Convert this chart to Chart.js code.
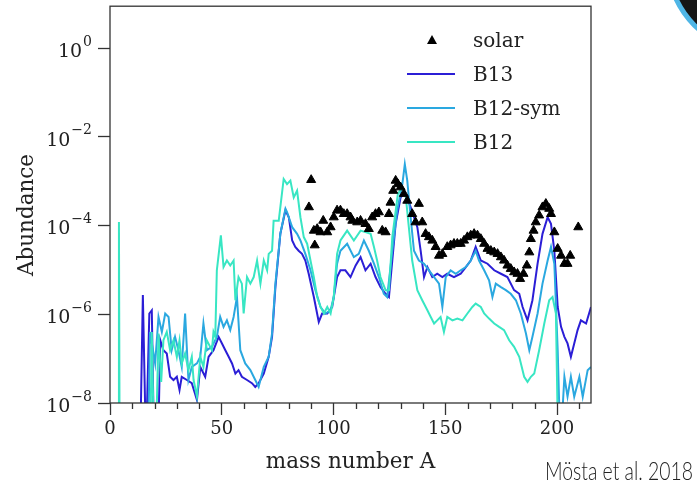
<!DOCTYPE html>
<html>
<head>
<meta charset="utf-8">
<script src="https://cdn.jsdelivr.net/npm/chart.js@4.4.1/dist/chart.umd.min.js"></script>
<style>
  html, body { margin: 0; padding: 0; background: #fff; }
  #wrap { position: relative; width: 697px; height: 485px; overflow: hidden; }
  #chart { position: absolute; left: 0; top: 0; }
  #corner { position: absolute; left: 665px; top: -135px; width: 180px; height: 180px;
            border-radius: 50%; background: #151515; border: 5px solid #4fb6e6; }
  #credit { position: absolute; left: 545px; top: 454px; font-family: Lato, 'Open Sans', sans-serif;
            font-weight: 300; font-size: 26px; color: #222; white-space: nowrap; transform-origin: 0 0; }
</style>
</head>
<body>
<div id="wrap">
  <canvas id="chart" width="697" height="485"></canvas>
  <div id="corner"></div>
  <div id="credit">Mösta et al. 2018</div>
</div>
<script>
// ---- data (mass number A, abundance) ----
const b13A = [
  13.5, 14.7, 16.1, 17.6, 18.7, 19.7, 21.5, 22.5, 23.9, 25.4,
  26.9, 28.4, 29.9, 31.1, 32.1, 34.4, 36.6, 38.9, 40.4, 42.6,
  44.1, 46.3, 48.6, 50.1, 51.6, 53.1, 54.6, 56.1, 57.5, 59.0,
  61.3, 63.5, 65.0, 66.5, 68.8, 71.0, 72.5, 74.0, 76.2, 78.5,
  80.0, 81.5, 82.9, 84.4, 85.9, 87.4, 88.9, 91.2, 93.4, 94.9,
  97.2, 99.4, 101.6, 103.1, 105.3, 107.6, 109.9, 112.1, 114.3, 116.6,
  118.8, 121.0, 123.3, 124.8, 126.3, 127.8, 130.0, 131.5, 133.0, 134.5,
  136.0, 137.5, 139.0, 140.5, 142.0, 144.2, 146.4, 148.7, 150.9, 153.9,
  156.9, 159.2, 161.4, 163.6, 165.9, 168.9, 171.9, 174.9, 177.8, 180.8,
  183.1, 184.6, 186.8, 189.0, 191.3, 193.5, 195.8, 197.3, 198.8, 200.3,
  201.8, 203.3, 204.7, 206.2, 207.7, 209.2, 210.7, 213.0, 215.2
];
const b13Y = [
  1e-9, 2.7e-6, 1e-9, 1.04e-6, 1.23e-6, 1e-9, 1e-9, 2.6e-7, 1.55e-7, 1.3e-7,
  3.9e-8, 3.3e-8, 3.9e-8, 1.96e-8, 3.9e-8, 3.3e-8, 2.8e-8, 1.17e-8, 6.5e-8, 3.9e-8,
  1.1e-7, 1.55e-7, 3.1e-7, 2.2e-7, 1.55e-7, 1.1e-7, 7.8e-8, 4.6e-8, 5.5e-8, 3.9e-8,
  3.3e-8, 2.8e-8, 2.3e-8, 2.8e-8, 4.6e-8, 1.1e-7, 3.1e-7, 4.1e-6, 6.5e-5, 2.2e-4,
  1.54e-4, 4.6e-5, 3.3e-5, 2.7e-5, 2.3e-5, 1.63e-5, 8.2e-6, 2.45e-6, 6.7e-7, 1.04e-6,
  1.04e-6, 1.46e-6, 6.9e-6, 9.8e-6, 9.8e-6, 6.9e-6, 1.26e-5, 1.94e-5, 9.8e-6, 1.38e-5,
  6.9e-6, 4.1e-6, 2.9e-6, 2.45e-6, 1.63e-5, 1.09e-4, 4.3e-4, 5.2e-4, 4.3e-4, 2.6e-4,
  1.54e-4, 9.2e-5, 2.7e-5, 6.9e-6, 1.16e-5, 6.9e-6, 8.2e-6, 6.9e-6, 8.2e-6, 6.9e-6,
  8.2e-6, 1.16e-5, 1.63e-5, 3.3e-5, 1.63e-5, 1.38e-5, 9.8e-6, 8.2e-6, 6.9e-6, 3.5e-6,
  2.9e-6, 1.46e-6, 7.3e-7, 2.07e-6, 1.38e-5, 6.5e-5, 1.54e-4, 1.09e-4, 2.7e-5, 1.46e-6,
  5.2e-7, 3.1e-7, 2.2e-7, 1.1e-7, 2.2e-7, 4.4e-7, 7.3e-7, 6.2e-7, 1.46e-6
];

const b12symA = [
  17.0, 17.9, 20.2, 21.7, 23.2, 24.7, 26.2, 27.6, 29.1, 30.6,
  32.1, 33.6, 35.1, 36.6, 38.9, 40.4, 41.8, 43.3, 45.6, 47.8,
  49.3, 50.8, 52.3, 53.8, 55.3, 56.8, 58.3, 60.5, 62.8, 65.0,
  66.5, 68.8, 71.0, 72.5, 74.0, 76.2, 78.5, 79.2, 81.5, 83.7,
  85.2, 87.4, 89.7, 91.9, 94.2, 96.4, 98.7, 100.1, 101.6, 103.1,
  106.1, 109.1, 111.3, 113.6, 115.8, 118.1, 120.3, 122.5, 124.0, 126.3,
  128.5, 130.8, 131.9, 133.0, 134.5, 136.0, 138.2, 140.5, 142.7, 145.0,
  147.2, 148.7, 150.2, 152.4, 154.7, 156.9, 159.2, 161.4, 163.6, 165.1,
  167.4, 169.6, 171.1, 172.6, 174.9, 177.1, 179.3, 181.6, 183.8, 186.1,
  187.6, 189.0, 191.3, 193.5, 195.8, 197.3, 198.8, 200.3, 201.5, 203.3,
  204.7, 206.2, 207.7, 210.0, 211.5, 213.7, 215.2
];
const b12symY = [
  1e-9, 4.0e-7, 7.8e-8, 8.7e-7, 4.0e-7, 1.04e-6, 8.7e-7, 1.55e-7, 3.1e-7, 1.55e-7,
  6.5e-8, 1.04e-6, 3.3e-8, 6.5e-8, 7.8e-8, 1.1e-7, 6.2e-7, 1.55e-7, 1.85e-7, 3.1e-7,
  8.7e-7, 5.2e-7, 7.3e-7, 4.4e-7, 8.7e-7, 2.45e-6, 1.55e-7, 7.8e-8, 5.5e-8, 3.3e-8,
  2.3e-8, 6.5e-8, 1.1e-7, 3.7e-7, 4.9e-6, 6.5e-5, 2.4e-4, 2.0e-4, 9.2e-5, 6.5e-5,
  4.6e-5, 2.3e-5, 9.8e-6, 3.5e-6, 1.46e-6, 1.04e-6, 1.23e-6, 2.45e-6, 1.38e-5, 2.7e-5,
  3.9e-5, 1.94e-5, 2.3e-5, 4.6e-5, 2.7e-5, 1.38e-5, 6.9e-6, 2.9e-6, 2.45e-6, 2.7e-5,
  2.2e-4, 8.6e-4, 2.43e-3, 1.03e-3, 1.54e-4, 2.7e-5, 1.63e-5, 1.38e-5, 9.8e-6, 6.9e-6,
  4.9e-6, 1.46e-6, 6.9e-6, 9.8e-6, 8.2e-6, 9.8e-6, 1.16e-5, 1.63e-5, 2.7e-5, 1.63e-5,
  9.8e-6, 5.8e-6, 2.45e-6, 4.9e-6, 4.1e-6, 3.5e-6, 2.9e-6, 2.07e-6, 1.04e-6, 3.7e-7,
  1.55e-7, 3.1e-7, 1.04e-6, 4.9e-6, 1.63e-5, 3.3e-5, 1.38e-5, 1.55e-7, 1e-9, 3.9e-8,
  1.39e-8, 3.9e-8, 1.39e-8, 3.9e-8, 1.39e-8, 5.5e-8, 6.5e-8
];

const b12A = [
  3.7, 4.0, 4.3, 18.0, 18.7, 19.7, 20.5, 21.7, 22.9, 23.9,
  25.4, 26.9, 28.4, 29.9, 31.1, 32.1, 33.6, 35.1, 36.6, 37.4,
  38.9, 40.4, 41.8, 43.3, 45.6, 46.3, 47.1, 47.8, 49.6, 50.8,
  52.3, 53.8, 55.3, 56.1, 57.5, 59.0, 59.8, 61.3, 62.8, 64.3,
  65.8, 67.3, 68.8, 70.3, 71.0, 72.5, 73.2, 75.5, 77.7, 79.2,
  80.7, 82.2, 83.7, 85.2, 86.7, 88.2, 89.7, 91.2, 92.7, 94.2,
  95.7, 97.2, 98.7, 100.1, 101.6, 103.1, 106.1, 109.1, 112.1, 114.3,
  116.6, 118.1, 119.5, 121.0, 123.3, 124.8, 126.3, 128.8, 130.8, 132.2,
  133.7, 135.2, 137.5, 139.7, 142.0, 143.5, 145.0, 146.4, 147.9, 149.4,
  150.9, 153.2, 155.4, 157.7, 159.9, 162.1, 163.6, 165.9, 167.4, 169.6,
  171.9, 174.1, 176.3, 178.6, 180.8, 183.1, 185.3, 186.8, 188.3, 189.8,
  192.0, 194.3, 196.5, 198.0, 199.5, 200.5
];
const b12Y = [
  1e-9, 1.2e-4, 1e-9, 1e-9, 4.0e-7, 1e-9, 1e-9, 3.7e-7, 3.0e-8, 2.6e-7,
  4.0e-7, 1.55e-7, 2.6e-7, 1.1e-7, 2.6e-7, 7.8e-8, 1.31e-7, 5.5e-8, 1.1e-7, 3.3e-8,
  1.39e-8, 1.1e-7, 6.5e-8, 2.6e-7, 1.55e-7, 4.0e-7, 3.1e-7, 9.8e-6, 6.0e-5, 1.16e-5,
  1.63e-5, 1.26e-5, 1.63e-5, 2.07e-6, 6.9e-6, 4.9e-6, 1.04e-6, 6.9e-6, 4.9e-6, 6.9e-6,
  1.63e-5, 4.9e-6, 1.63e-5, 9.8e-6, 2.3e-5, 2.7e-5, 1.29e-4, 1.29e-4, 1.12e-3, 8.6e-4,
  1.03e-3, 4.3e-4, 6.1e-4, 1.54e-4, 5.5e-5, 3.9e-5, 1.63e-5, 6.9e-6, 2.45e-6, 1.46e-6,
  1.04e-6, 1.46e-6, 1.04e-6, 2.45e-6, 2.3e-5, 4.6e-5, 7.7e-5, 4.6e-5, 7.7e-5, 7.1e-5,
  6.5e-5, 3.3e-5, 1.63e-5, 6.9e-6, 3.5e-6, 3.5e-6, 5.5e-5, 5.2e-4, 7.3e-4, 5.2e-4,
  9.2e-5, 1.63e-5, 3.5e-6, 2.07e-6, 1.23e-6, 8.7e-7, 6.2e-7, 7.3e-7, 8.7e-7, 4.0e-7,
  8.7e-7, 7.3e-7, 8.0e-7, 7.3e-7, 1.04e-6, 1.46e-6, 1.74e-6, 1.46e-6, 1.04e-6, 8.0e-7,
  6.2e-7, 5.2e-7, 4.4e-7, 2.6e-7, 1.85e-7, 1.1e-7, 3.9e-8, 3.0e-8, 3.9e-8, 4.6e-8,
  1.55e-7, 6.2e-7, 2.07e-6, 2.45e-6, 1.04e-6, 1e-9
];

const solarA = [
  89, 90, 91.2, 91.6, 92.7, 94.2, 95.4, 97.2, 98.7, 100.1,
  101.6, 103.1, 104.6, 106.1, 107.6, 108.4, 110.6, 112.1, 114.3, 115.8,
  117.3, 118.8, 120.3, 121.8, 123.3, 124.8, 125.5, 126.7, 127.8, 128.8,
  130.0, 131.5, 133.0, 135.2, 136.7, 138.2, 139.7, 141.2, 142.7, 144.2,
  145.7, 147.2, 148.7, 150.9, 152.4, 153.9, 155.4, 156.9, 158.4, 159.9,
  161.4, 162.9, 164.4, 165.9, 167.4, 168.9, 170.4, 171.9, 173.4, 174.9,
  176.3, 177.8, 179.3, 180.8, 182.3, 183.5, 185.0, 186.5, 187.6, 188.3,
  189.5, 190.5, 192.0, 193.5, 195.0, 196.5, 197.3, 198.8, 200.3, 201.8,
  203.3, 204.7, 205.9, 209.5
];
const solarY = [
  2.6e-4, 1.07e-3, 7.7e-5, 3.6e-5, 8.4e-5, 7.1e-5, 1.29e-4, 7.1e-5, 9.2e-5, 1.54e-4,
  2.2e-4, 2.2e-4, 1.83e-4, 1.83e-4, 1.54e-4, 1.29e-4, 1.19e-4, 1.29e-4, 1.09e-4, 8.4e-5,
  1.54e-4, 1.83e-4, 2.0e-4, 7.7e-5, 7.1e-5, 1.83e-4, 3.3e-4, 6.1e-4, 1.03e-3, 8.6e-4,
  7.3e-4, 5.2e-4, 3.65e-4, 1.83e-4, 1.19e-4, 3.1e-4, 1.19e-4, 6.5e-5, 5.5e-5, 4.6e-5,
  3.3e-5, 2.1e-5, 2.3e-5, 3.3e-5, 3.6e-5, 3.9e-5, 3.9e-5, 3.9e-5, 4.6e-5, 5.5e-5,
  6.0e-5, 6.5e-5, 6.0e-5, 5.0e-5, 3.9e-5, 3.0e-5, 2.7e-5, 2.5e-5, 2.3e-5, 1.94e-5,
  1.63e-5, 1.26e-5, 1.06e-5, 8.9e-6, 8.2e-6, 6.3e-6, 8.2e-6, 1.26e-5, 2.5e-5, 5.0e-5,
  7.7e-5, 1.19e-4, 1.7e-4, 2.6e-4, 3.1e-4, 2.4e-4, 1.83e-4, 7.1e-5, 3.0e-5, 2.1e-5,
  1.38e-5, 1.38e-5, 2.1e-5, 9.2e-5
];

const yTickValues = [1e-8, 1e-6, 1e-4, 1e-2, 1];
const seriesLabels = ['solar', 'B13', 'B12-sym', 'B12'];

const COLORS = { b13: '#2b1ed6', b12sym: '#2aa8e0', b12: '#38e6c3', solar: '#000000', text: '#222222', axis: '#333333' };
const SERIF = "'DejaVu Serif', 'Liberation Serif', serif";

const pts = (as, ys) => as.map((a, i) => ({ x: a, y: ys[i] }));
const lineSet = (label, data, color) => ({
  label, data, showLine: true, borderColor: color, backgroundColor: color,
  borderWidth: 2, pointRadius: 0, pointHoverRadius: 0, tension: 0
});

// frame, minor ticks, y tick labels, y title and in-plot legend
const decor = {
  id: 'decor',
  afterDatasetsDraw(chart) {
    const { ctx, chartArea: a, scales } = chart;
    ctx.save();
    ctx.strokeStyle = COLORS.axis;
    ctx.lineWidth = 1.3;
    ctx.strokeRect(a.left, a.top, a.right - a.left, a.bottom - a.top);
    // minor x ticks
    ctx.beginPath();
    for (let v = 10; v <= 210; v += 10) {
      if (v % 50 === 0) continue;
      const px = Math.round(scales.x.getPixelForValue(v)) + 0.5;
      ctx.moveTo(px, a.bottom);
      ctx.lineTo(px, a.bottom + 6);
    }
    ctx.stroke();
    ctx.restore();
  },
  afterDraw(chart) {
    const { ctx, chartArea: a, scales } = chart;
    ctx.save();
    ctx.fillStyle = COLORS.text;
    // y tick labels as 10^n
    yTickValues.forEach((v) => {
      const py = scales.y.getPixelForValue(v);
      const e = Math.round(Math.log10(v));
      const expTxt = e < 0 ? '\u2212' + (-e) : String(e);
      ctx.textAlign = 'right';
      ctx.textBaseline = 'middle';
      ctx.font = `14px ${SERIF}`;
      const ew = ctx.measureText(expTxt).width;
      ctx.fillText(expTxt, 92, py - 6);
      ctx.font = `19px ${SERIF}`;
      ctx.fillText('10', 92 - ew - 1, py + 4);
    });
    // y title
    ctx.save();
    ctx.translate(27, 215);
    ctx.rotate(-Math.PI / 2);
    ctx.textAlign = 'center';
    ctx.textBaseline = 'middle';
    ctx.font = `21.5px ${SERIF}`;
    ctx.fillText('Abundance', 0, 0);
    ctx.restore();
    // legend
    const rowY = [41, 75, 109, 143];
    const lineColors = [null, COLORS.b13, COLORS.b12sym, COLORS.b12];
    ctx.font = `20px ${SERIF}`;
    ctx.textAlign = 'left';
    ctx.textBaseline = 'middle';
    seriesLabels.forEach((lab, i) => {
      const y = rowY[i];
      if (lineColors[i]) {
        ctx.strokeStyle = lineColors[i];
        ctx.lineWidth = 2.2;
        ctx.beginPath();
        ctx.moveTo(407, y - 1);
        ctx.lineTo(455, y - 1);
        ctx.stroke();
      } else {
        ctx.fillStyle = COLORS.solar;
        ctx.beginPath();
        ctx.moveTo(432, y - 6);
        ctx.lineTo(437, y + 3);
        ctx.lineTo(427, y + 3);
        ctx.closePath();
        ctx.fill();
      }
      ctx.fillStyle = COLORS.text;
      ctx.fillText(lab, 473, y + 1);
    });
    ctx.restore();
  }
};

new Chart(document.getElementById('chart'), {
  type: 'scatter',
  data: {
    datasets: [
      {
        label: 'solar', data: pts(solarA, solarY), showLine: false,
        pointStyle: 'triangle', pointRadius: 5.2, pointHoverRadius: 5.2,
        backgroundColor: COLORS.solar, borderColor: COLORS.solar, borderWidth: 1
      },
      lineSet('B12', pts(b12A, b12Y), COLORS.b12),
      lineSet('B12-sym', pts(b12symA, b12symY), COLORS.b12sym),
      lineSet('B13', pts(b13A, b13Y), COLORS.b13)
    ]
  },
  options: {
    responsive: false,
    animation: false,
    layout: { padding: { top: 5, right: 106, left: 0, bottom: 0 } },
    plugins: { legend: { display: false }, tooltip: { enabled: false } },
    scales: {
      x: {
        type: 'linear', min: 0, max: 215.2,
        border: { display: false },
        grid: {
          drawOnChartArea: false, tickLength: 12, tickWidth: 1.3,
          tickColor: (c) => (c.tick && c.tick.value % 50 === 0 ? COLORS.axis : 'rgba(0,0,0,0)')
        },
        ticks: {
          stepSize: 10, autoSkip: false, maxRotation: 0, includeBounds: false, padding: 4,
          color: COLORS.text, font: { family: SERIF, size: 18 },
          callback: (v) => (v % 50 === 0 ? String(v) : '')
        },
        title: {
          display: true, text: 'mass number A', color: COLORS.text,
          font: { family: SERIF, size: 21.5 }, padding: { top: 0, bottom: 10 }
        },
        afterFit: (s) => { s.height = 82; }
      },
      y: {
        type: 'logarithmic', min: 1e-8, max: 8.8,
        border: { display: false },
        grid: { drawOnChartArea: false, tickLength: 12, tickWidth: 1.3, tickColor: COLORS.axis },
        ticks: { display: false },
        afterBuildTicks: (s) => { s.ticks = yTickValues.map((v) => ({ value: v })); },
        afterFit: (s) => { s.width = 110; }
      }
    }
  },
  plugins: [decor]
});

// squeeze the credit line to the width it has in the figure
const credit = document.getElementById('credit');
const cw = credit.getBoundingClientRect().width;
credit.style.transform = `scaleX(${148 / cw})`;
</script>
</body>
</html>
